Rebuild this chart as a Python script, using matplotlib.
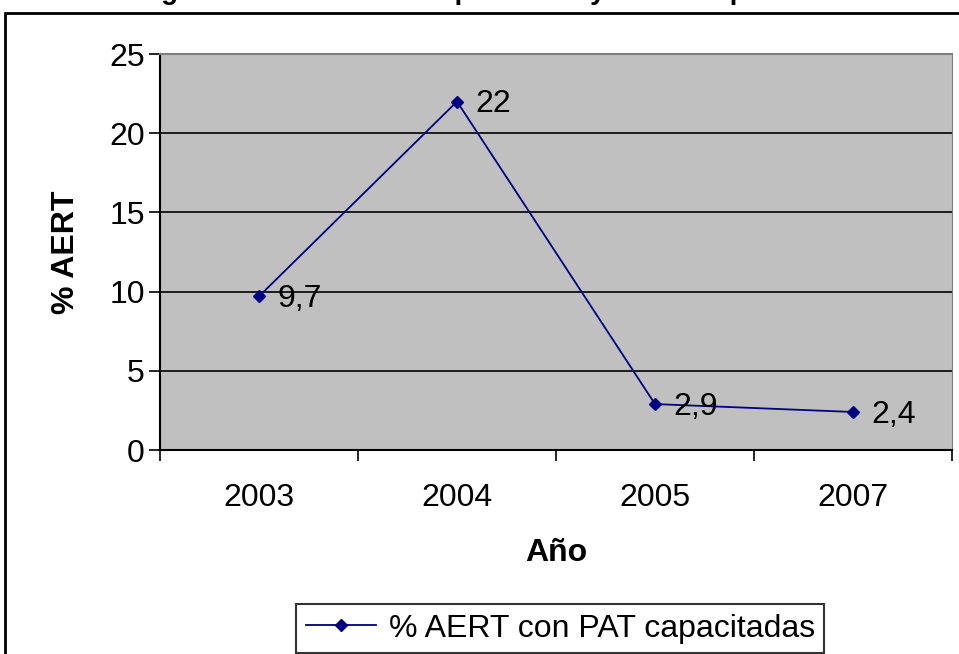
import matplotlib.pyplot as plt
from matplotlib.patches import Rectangle

plt.rcParams['font.family'] = ['Liberation Sans', 'DejaVu Sans']

years = ['2003', '2004', '2005', '2007']
valores = [9.7, 22, 2.9, 2.4]
etiquetas = ['9,7', '22', '2,9', '2,4']
serie = '% AERT con PAT capacitadas'
titulo = 'Seguimiento de AERT capacitadas y con PAT por año'

W, H = 959, 654
fig = plt.figure(figsize=(W / 100, H / 100), dpi=100)

# marco exterior del grafico
fig.patches.append(Rectangle((5 / W, -0.1), 1.2, 1.1 - 13 / H, transform=fig.transFigure,
                             fill=False, edgecolor='black', linewidth=2))

# titulo cortado por arriba (solo se ven los descendentes)
fig.text(0.5, 1 + 1 / H, titulo, ha='center', va='baseline', fontsize=20, fontweight='bold')

ax = fig.add_axes([160 / W, (H - 450) / H, 792 / W, 396 / H])
ax.set_facecolor('#C0C0C0')
x = list(range(len(years)))
ax.plot(x, valores, color='#000080', linewidth=1.3, marker='D', markersize=6,
        markerfacecolor='#000080', markeredgecolor='#000080', label=serie, zorder=3)
for xi, v, t in zip(x, valores, etiquetas):
    ax.annotate(t, (xi, v), xytext=(13, -2), textcoords='offset points',
                ha='left', va='center', fontsize=23)

ax.set_xlim(-0.5, len(years) - 0.5)
ax.set_ylim(0, 25)
ax.set_yticks([0, 5, 10, 15, 20, 25])
ax.set_xticks([i - 0.5 for i in range(len(years) + 1)], minor=False)
ax.set_xticklabels([])
ax.set_xticks(x, minor=True)
ax.set_xticklabels(years, minor=True, fontsize=23)
ax.tick_params(axis='x', which='minor', length=0, pad=24)
ax.tick_params(axis='x', which='major', length=8, width=1.2, direction='out')
ax.tick_params(axis='y', length=8, width=1.2, labelsize=23, pad=3)
ax.yaxis.grid(True, color='black', linewidth=1.2)
ax.set_axisbelow(True)
for s in ['left', 'bottom']:
    ax.spines[s].set_linewidth(1.5)
ax.spines['top'].set_color('#808080')
ax.spines['right'].set_color('#808080')
ax.spines['top'].set_linewidth(1.5)

ax.set_xlabel('Año', fontsize=23, fontweight='bold', labelpad=18)
ax.set_ylabel('% AERT', fontsize=23, fontweight='bold', labelpad=20)

leg = fig.legend(loc='upper left', bbox_to_anchor=(296 / W, 1 - 604 / H), fontsize=23,
                 frameon=True, fancybox=False, edgecolor='black', handlelength=2.2,
                 borderpad=0.3, handletextpad=0.4, borderaxespad=0)
leg.get_frame().set_linewidth(1.5)

fig.savefig('out.png', dpi=100)
